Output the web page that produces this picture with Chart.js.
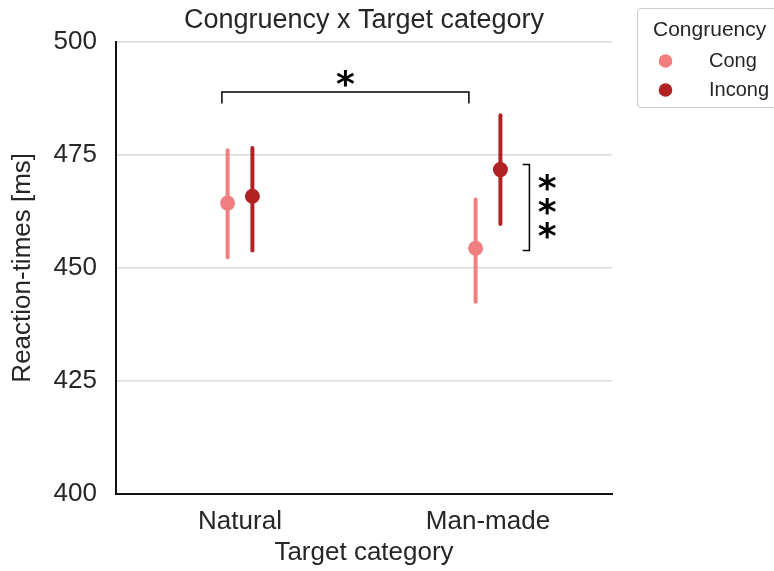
<!DOCTYPE html>
<html>
<head>
<meta charset="utf-8">
<script src="https://cdn.jsdelivr.net/npm/chart.js@4/dist/chart.umd.min.js"></script>
<style>
  html, body { margin: 0; padding: 0; background: #fff; }
  #wrap { width: 774px; height: 571px; }
</style>
</head>
<body>
<div id="wrap"><canvas id="chart" width="774" height="571"></canvas></div>
<script>
// --- data ---
const categories = ["Natural", "Man-made"];
const congMean = [464.3, 454.3];
const congLow = [452.3, 442.5];
const congHigh = [476.0, 465.1];
const incongMean = [465.8, 471.7];
const incongLow = [453.8, 459.7];
const incongHigh = [476.5, 483.7];
const yTicks = [400, 425, 450, 475, 500];
const seriesNames = ["Cong", "Incong"];

const COLORS = ["#f08080", "#b22222"];
const DODGE = 0.05;
const FONT = "'Liberation Sans', Arial, sans-serif";
const TEXT = "#262626";

function makeSet(name, means, lows, highs, color, shift) {
    return {
        label: name,
        data: means.map((m, i) => ({ x: i + shift, y: m })),
        lows: lows,
        highs: highs,
        backgroundColor: color,
        borderColor: color,
        pointRadius: 7.5,
        pointHoverRadius: 7.5,
        pointBorderWidth: 0
    };
}

// confidence intervals, drawn under the points
const errorBars = {
    id: "errorBars",
    beforeDatasetsDraw(chart) {
        const { ctx, scales: { x, y } } = chart;
        ctx.save();
        ctx.lineWidth = 4;
        ctx.lineCap = "round";
        chart.data.datasets.forEach(ds => {
            ctx.strokeStyle = ds.borderColor;
            ds.data.forEach((p, i) => {
                const px = x.getPixelForValue(p.x);
                ctx.beginPath();
                ctx.moveTo(px, y.getPixelForValue(ds.lows[i]));
                ctx.lineTo(px, y.getPixelForValue(ds.highs[i]));
                ctx.stroke();
            });
        });
        ctx.restore();
    }
};

// significance brackets and stars
function star(ctx, px, py) {
    ctx.font = "bold 36px 'DejaVu Sans', sans-serif";
    ctx.textAlign = "center";
    ctx.textBaseline = "alphabetic";
    const m = ctx.measureText("*");
    const off = (m.actualBoundingBoxDescent - m.actualBoundingBoxAscent) / 2;
    ctx.fillText("*", px, py - off);
}

const signif = {
    id: "signif",
    afterDatasetsDraw(chart) {
        const { ctx, scales: { x, y } } = chart;
        ctx.save();
        ctx.strokeStyle = "#000";
        ctx.fillStyle = "#000";
        ctx.lineWidth = 1.5;

        // between categories (Cong)
        const x1 = x.getPixelForValue(-0.073), x2 = x.getPixelForValue(0.923);
        const yt = y.getPixelForValue(488.85), yb = y.getPixelForValue(486.3);
        ctx.beginPath();
        ctx.moveTo(x1, yb); ctx.lineTo(x1, yt); ctx.lineTo(x2, yt); ctx.lineTo(x2, yb);
        ctx.stroke();
        star(ctx, x.getPixelForValue(0.425), y.getPixelForValue(491.9));

        // within Man-made
        const xr = x.getPixelForValue(1.167), xl = x.getPixelForValue(1.14);
        const y1 = y.getPixelForValue(472.8), y2 = y.getPixelForValue(453.8);
        ctx.beginPath();
        ctx.moveTo(xl, y1); ctx.lineTo(xr, y1); ctx.lineTo(xr, y2); ctx.lineTo(xl, y2);
        ctx.stroke();
        [468.9, 463.6, 458.3].forEach(v => star(ctx, x.getPixelForValue(1.239), y.getPixelForValue(v)));
        ctx.restore();
    }
};

// seaborn-like legend box outside the axes
const sideLegend = {
    id: "sideLegend",
    afterDraw(chart) {
        const ctx = chart.ctx;
        ctx.save();
        ctx.fillStyle = "#fff";
        ctx.strokeStyle = "#cccccc";
        ctx.lineWidth = 1.2;
        ctx.beginPath();
        ctx.roundRect(637.5, 8.5, 150, 99, 4);
        ctx.fill();
        ctx.stroke();

        ctx.fillStyle = TEXT;
        ctx.textBaseline = "middle";
        ctx.textAlign = "left";
        ctx.font = "21px " + FONT;
        ctx.fillText("Congruency", 653, 30);

        ctx.font = "20px " + FONT;
        chart.data.datasets.forEach((ds, i) => {
            const cy = 61 + i * 29;
            ctx.fillStyle = ds.backgroundColor;
            ctx.beginPath();
            ctx.arc(665.5, cy, 6.8, 0, Math.PI * 2);
            ctx.fill();
            ctx.fillStyle = TEXT;
            ctx.fillText(ds.label, 709, cy);
        });
        ctx.restore();
    }
};

new Chart(document.getElementById("chart"), {
    type: "scatter",
    data: {
        datasets: [
            makeSet(seriesNames[0], congMean, congLow, congHigh, COLORS[0], -DODGE),
            makeSet(seriesNames[1], incongMean, incongLow, incongHigh, COLORS[1], DODGE)
        ]
    },
    options: {
        responsive: false,
        animation: false,
        events: [],
        layout: { padding: { left: 0, right: 162, top: 0, bottom: 0 } },
        plugins: {
            legend: { display: false },
            tooltip: { enabled: false },
            title: {
                display: true,
                text: "Congruency x Target category",
                fullSize: false,
                color: TEXT,
                font: { family: FONT, size: 27, weight: "normal", lineHeight: 1.15 },
                padding: { top: 5, bottom: 5.5 }
            }
        },
        scales: {
            x: {
                type: "linear",
                min: -0.5,
                max: 1.5,
                afterBuildTicks: s => { s.ticks = categories.map((c, i) => ({ value: i })); },
                afterFit: s => { s.height = 77; },
                ticks: {
                    callback: v => categories[v],
                    color: TEXT,
                    font: { family: FONT, size: 26 },
                    padding: 12,
                    maxRotation: 0
                },
                grid: { display: false, drawTicks: false },
                border: { display: true, color: "#111", width: 2 },
                title: {
                    display: true,
                    text: "Target category",
                    color: TEXT,
                    font: { family: FONT, size: 26 },
                    padding: { top: 0, bottom: 2.4 }
                }
            },
            y: {
                min: 400,
                max: 500,
                afterBuildTicks: s => { s.ticks = yTicks.map(v => ({ value: v })); },
                afterFit: s => { s.width = 116; },
                ticks: {
                    color: TEXT,
                    font: { family: FONT, size: 26 },
                    padding: 19
                },
                grid: { color: "#d9d9d9", lineWidth: 1.5, drawTicks: false },
                border: { display: true, color: "#111", width: 2 },
                title: {
                    display: true,
                    text: "Reaction-times [ms]",
                    color: TEXT,
                    font: { family: FONT, size: 26 },
                    padding: { top: 7, bottom: 0 }
                }
            }
        }
    },
    plugins: [errorBars, signif, sideLegend]
});
</script>
</body>
</html>
